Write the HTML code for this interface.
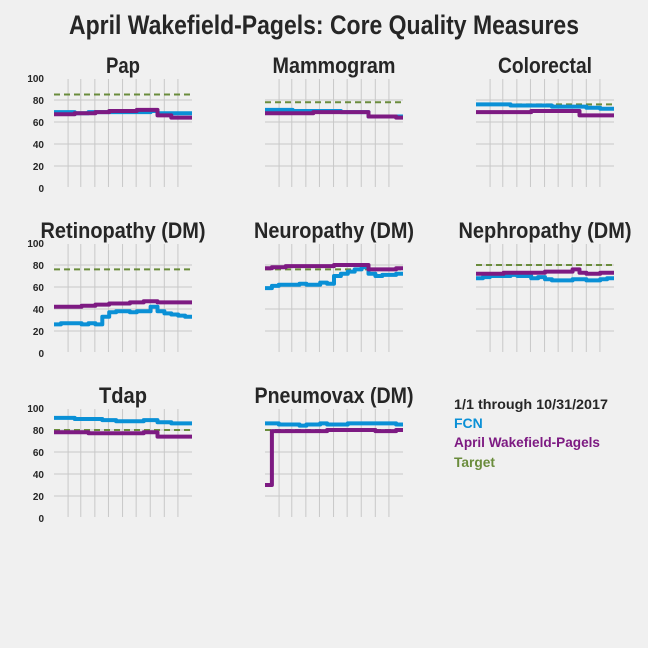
<!DOCTYPE html>
<html><head><meta charset="utf-8"><style>
body{margin:0;background:#f0f0f0}
svg{display:block;font-family:"Liberation Sans",sans-serif}
</style></head><body>
<svg id="c" width="648" height="648" viewBox="0 0 648 648">
<rect width="648" height="648" fill="#f0f0f0"/>
<text x="324" y="34" text-anchor="middle" font-size="27" font-weight="bold" fill="#262626" textLength="510" lengthAdjust="spacingAndGlyphs">April Wakefield-Pagels: Core Quality Measures</text>
<g>
<text x="454" y="409" font-size="14" font-weight="bold" fill="#262626" textLength="154" lengthAdjust="spacingAndGlyphs">1/1 through 10/31/2017</text>
<text x="454" y="428" font-size="14" font-weight="bold" fill="#0a90d6">FCN</text>
<text x="454" y="447" font-size="14" font-weight="bold" fill="#7d1a82" textLength="146" lengthAdjust="spacingAndGlyphs">April Wakefield-Pagels</text>
<text x="454" y="467" font-size="14" font-weight="bold" fill="#6a8c3c" textLength="41" lengthAdjust="spacingAndGlyphs">Target</text>
</g>
</svg>
<script>
const titles=["Pap","Mammogram","Colorectal","Retinopathy (DM)","Neuropathy (DM)","Nephropathy (DM)","Tdap","Pneumovax (DM)"];
const titleWidths=[34,123,94,165,160,173,48,159];
const targets=[85,78,76,76,76,80,80,80];
const fcn=[
[69,69,69,68,68,69,69,69,69,69,69,69,69,69,70,68,68,68,68,68],
[71,71,71,71,70,70,70,70,70,70,70,69,69,69,69,65,65,65,65,65],
[76,76,76,76,76,75,75,75,75,75,75,74,74,74,74,74,73,73,72,72],
[26,27,27,27,26,27,26,33,37,38,38,37,38,38,42,38,36,35,34,33],
[59,61,62,62,62,63,62,62,64,63,70,72,74,76,78,72,70,71,71,72],
[68,69,70,70,70,71,70,70,68,69,67,66,66,66,67,67,66,66,67,68],
[91,91,91,90,90,90,90,89,89,88,88,88,88,89,89,87,87,86,86,86],
[86,86,85,85,85,84,85,85,86,85,85,85,86,86,86,86,86,86,86,85]];
const prov=[
[67,67,67,68,68,68,69,69,70,70,70,70,71,71,71,66,66,64,64,64],
[68,68,68,68,68,68,68,69,69,69,69,69,69,69,69,65,65,65,65,64],
[69,69,69,69,69,69,69,69,70,70,70,70,70,70,70,66,66,66,66,66],
[42,42,42,42,43,43,44,44,45,45,45,46,46,47,47,46,46,46,46,46],
[77,78,78,79,79,79,79,79,79,79,80,80,80,80,80,76,76,76,76,77],
[72,72,72,72,73,73,73,73,73,73,74,74,74,74,76,73,72,72,73,73],
[78,78,78,78,78,77,77,77,77,77,77,77,77,78,78,74,74,74,74,74],
[30,79,79,79,79,79,79,79,79,80,80,80,80,80,80,80,79,79,79,80]];
const yTicks=[100,80,60,40,20,0];
const monthDays=[31,28,31,30,31,30,31,31,30,31];
const NS="http://www.w3.org/2000/svg";
const svg=document.getElementById('c');
function mk(t,a,p){const e=document.createElementNS(NS,t);for(const k in a)e.setAttribute(k,a[k]);(p||svg).appendChild(e);return e;}
const W=138,H=110;
titles.forEach((title,i)=>{
  const col=i%3,row=Math.floor(i/3);
  const x0=54+col*211,y0=78+row*165;
  const xs=f=>x0+f*W, ys=v=>y0+H-v/100*H;
  const g=mk('g',{});
  
  
  const tt=mk('text',{x:x0+W/2,y:y0-5,'text-anchor':'middle','font-size':22,'font-weight':'bold',fill:'#262626',textLength:titleWidths[i],lengthAdjust:'spacingAndGlyphs'},g);
  tt.textContent=title;
  
  
  [20,40,60,80].forEach(v=>{const l=mk('line',{x1:x0,x2:x0+W,y1:ys(v),y2:ys(v),stroke:'#c8c8c8','stroke-width':1},g);
    
    });
  let cum=0;const tot=monthDays.reduce((a,b)=>a+b,0);
  monthDays.slice(0,-1).forEach(d=>{cum+=d;const x=xs(cum/tot);
    const l=mk('line',{x1:x,x2:x,y1:y0+1,y2:y0+H-1,stroke:'#c8c8c8','stroke-width':1},g);
    
    });
  if(col===0){yTicks.forEach(v=>{const t=mk('text',{x:x0-10,y:ys(v)+4,'text-anchor':'end','font-size':10,'font-weight':'bold',fill:'#262626'},g);t.textContent=v;
    
    });}
  const tl=mk('line',{x1:x0,x2:x0+W,y1:ys(targets[i]),y2:ys(targets[i]),stroke:'#6a8c3c','stroke-width':2,'stroke-dasharray':'6,4'},g);
  
  
  [[fcn[i],'#0a90d6','fcn-line'],[prov[i],'#7d1a82','provider-line']].forEach(([arr,c,n])=>{
    let d='';const n1=arr.length;
    arr.forEach((v,j)=>{const xa=xs(j/n1),xb=xs((j+1)/n1);d+=(j?'L':'M')+xa+','+ys(v)+'L'+xb+','+ys(v);});
    const p=mk('path',{d:d,fill:'none',stroke:c,'stroke-width':4,'stroke-linejoin':'round'},g);
    
    
  });
});
</script>
</body></html>
